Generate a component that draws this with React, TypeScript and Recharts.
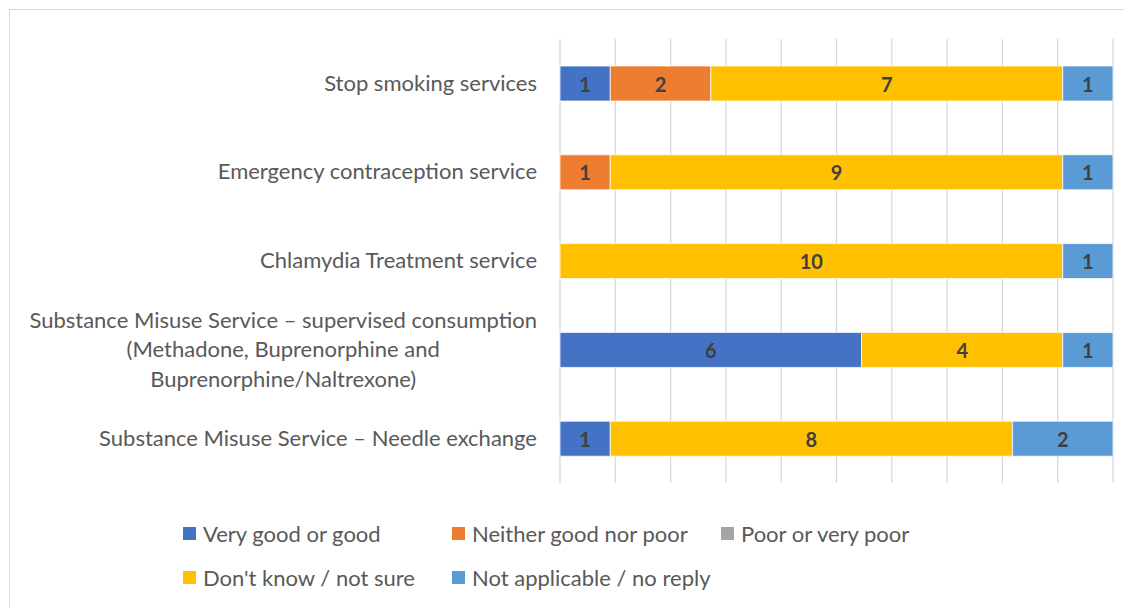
import React from 'react';
import { BarChart, Bar, XAxis, YAxis, CartesianGrid, LabelList, Legend } from 'recharts';

const categories = [
  'Stop smoking services',
  'Emergency contraception service',
  'Chlamydia Treatment service',
  'Substance Misuse Service – supervised consumption\n(Methadone, Buprenorphine and\nBuprenorphine/Naltrexone)',
  'Substance Misuse Service – Needle exchange',
];
const veryGood = [1, 0, 0, 6, 1];
const neither = [2, 1, 0, 0, 0];
const poor = [0, 0, 0, 0, 0];
const dontKnow = [7, 9, 10, 4, 8];
const notApplicable = [1, 1, 1, 1, 2];
const xTicks = [0, 0.1, 0.2, 0.3, 0.4, 0.5, 0.6, 0.7, 0.8, 0.9, 1];

const series = [
  { key: 'vg', name: 'Very good or good', color: '#4472C4', values: veryGood },
  { key: 'ng', name: 'Neither good nor poor', color: '#ED7D31', values: neither },
  { key: 'pp', name: 'Poor or very poor', color: '#A5A5A5', values: poor },
  { key: 'dk', name: "Don't know / not sure", color: '#FFC000', values: dontKnow },
  { key: 'na', name: 'Not applicable / no reply', color: '#5B9BD5', values: notApplicable },
];

const data = categories.map((c, i) => {
  const row: any = { name: c };
  series.forEach((s) => (row[s.key] = s.values[i]));
  return row;
});

const FONT = 'Lato, "Open Sans", sans-serif';

const YTick = (props: any) => {
  const { x, y, payload } = props;
  const lines = String(payload.value).split('\n');
  const lh = 29.5;
  const h = lines.length * lh;
  const w = 540;
  return (
    <foreignObject x={x - w} y={y - h / 2 - 1} width={w} height={h}>
      <div style={{ display: 'flex', justifyContent: 'flex-end', width: w, height: h }}>
        <div
          style={{
            textAlign: 'center',
            fontFamily: FONT,
            fontSize: 22,
            lineHeight: lh + 'px',
            color: '#595959',
            whiteSpace: 'nowrap',
          }}
        >
          {lines.map((l, i) => (
            <div key={i}>{l}</div>
          ))}
        </div>
      </div>
    </foreignObject>
  );
};

const LegendContent = () => {
  const cols = 3;
  return (
    <div style={{ position: 'relative', width: 1122, height: 90 }}>
      {series.map((s, i) => {
        const col = i % cols;
        const row = Math.floor(i / cols);
        return (
          <div
            key={s.key}
            style={{
              position: 'absolute',
              left: 173 + col * 269,
              top: row * 44,
              display: 'flex',
              alignItems: 'center',
              height: 24,
              fontFamily: FONT,
              fontSize: 22,
              color: '#595959',
              whiteSpace: 'nowrap',
            }}
          >
            <span style={{ display: 'inline-block', width: 13, height: 13, background: s.color, marginRight: 7 }} />
            {s.name}
          </div>
        );
      })}
    </div>
  );
};

const renderLabel = (props: any) => {
  const { x, y, width, height, value } = props;
  const v = Array.isArray(value) ? value[1] - value[0] : value;
  if (!v || width <= 0) return null;
  return (
    <text
      x={x + width / 2}
      y={y + height / 2}
      textAnchor="middle"
      dominantBaseline="central"
      fontFamily={FONT}
      fontWeight="bold"
      fontSize={20}
      fill="#404040"
    >
      {v}
    </text>
  );
};

export default function App() {
  return (
    <div
      style={{
        marginLeft: 1,
        marginTop: 1,
        width: 1122,
        height: 598,
        borderLeft: '1px solid #d9d9d9',
        borderTop: '1px solid #d9d9d9',
        background: '#fff',
      }}
    >
      <BarChart
        width={1122}
        height={598}
        data={data}
        layout="vertical"
        stackOffset="expand"
        margin={{ top: 29, right: 19, bottom: 35, left: 10 }}
        barCategoryGap={0}
      >
        <CartesianGrid horizontal={false} stroke="#d9d9d9" strokeWidth={1.3} />
        <XAxis type="number" domain={[0, 1]} ticks={xTicks} hide />
        <YAxis
          type="category"
          dataKey="name"
          width={540}
          tickLine={false}
          axisLine={false}
          tickSize={0}
          tickMargin={23}
          tick={<YTick />}
          interval={0}
        />
        {series.map((s) => (
          <Bar
            key={s.key}
            dataKey={s.key}
            name={s.name}
            stackId="a"
            fill={s.color}
            barSize={35}
            stroke="#ffffff"
            strokeWidth={0.75}
            isAnimationActive={false}
          >
            <LabelList dataKey={s.key} content={renderLabel} />
          </Bar>
        ))}
        <Legend content={<LegendContent />} wrapperStyle={{ left: 0, top: 511, width: 1122, height: 90 }} />
      </BarChart>
    </div>
  );
}
